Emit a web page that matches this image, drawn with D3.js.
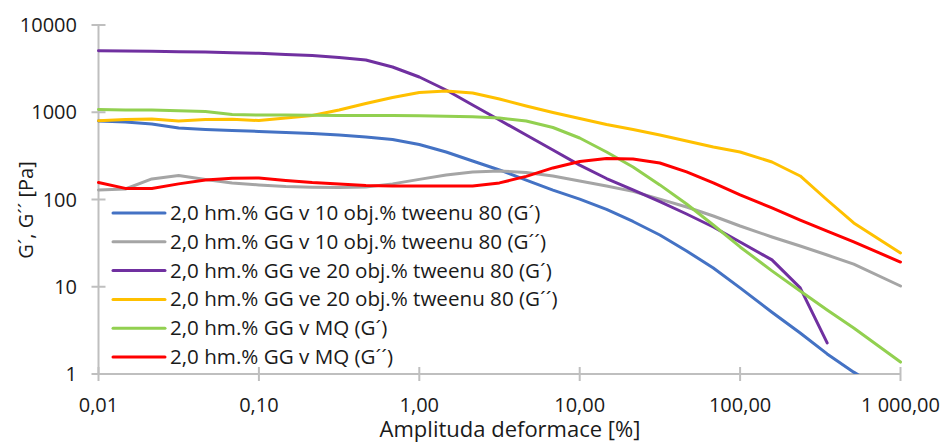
<!DOCTYPE html>
<html>
<head>
<meta charset="utf-8">
<script src="https://cdn.jsdelivr.net/npm/d3@7"></script>
<style>
  html, body { margin: 0; padding: 0; background: #ffffff; }
  svg { display: block; font-family: "Open Sans", sans-serif; }
</style>
</head>
<body>
<svg id="chart" width="945" height="443"></svg>
<script>
// Strain amplitude [%] at each measured point
const strain = [0.01, 0.0147, 0.0215, 0.0316, 0.0464, 0.0681, 0.1, 0.147, 0.215, 0.316,
  0.464, 0.681, 1.0, 1.47, 2.15, 3.16, 4.64, 6.81, 10, 14.7,
  21.5, 31.6, 46.4, 68.1, 100, 158, 237, 349, 511, 1000];

// Moduli [Pa]
const gg10G1 = [794, 773, 733, 659, 634, 618, 602, 586, 571, 548,
  520, 487, 427, 350, 276, 218, 167, 128, 101, 77,
  56, 39.2, 25.7, 16.4, 9.7, 5.1, 2.95, 1.70, 1.05, 0.5];
const gg10G2 = [128.5, 132, 172, 188, 170, 155, 147, 141, 138, 137,
  139, 151, 170, 191, 207, 212, 204, 186, 163, 143,
  124, 101, 82, 64.7, 49.7, 37.2, 29.3, 23.1, 18.2, 10.2];
const gg20G1 = [5075, 5036, 4998, 4944, 4907, 4818, 4742, 4592, 4470, 4245,
  3970, 3302, 2535, 1798, 1211, 815, 548, 369, 248, 174,
  128.5, 94.4, 68.2, 48.4, 32.6, 20.3, 9.7, 2.27, null, null];
const gg20G2 = [800, 826, 837, 794, 826, 830, 804, 859, 918, 1062,
  1260, 1476, 1684, 1753, 1662, 1419, 1180, 993, 848, 724,
  634, 548, 468, 400, 350, 269, 186, 98.7, 53.8, 24.4];
const mqG1 = [1075, 1062, 1062, 1042, 1020, 942, 930, 930, 922, 918,
  918, 918, 910, 899, 889, 859, 794, 669, 507, 350,
  236, 147, 88.7, 51, 28.6, 15.2, 8.94, 5.42, 3.37, 1.37];
const mqG2 = [156.6, 134, 134, 151, 167, 175, 176, 165, 156.6, 151,
  145, 143, 143, 143, 143, 155, 184, 230, 273, 295,
  291, 262, 207, 155, 113, 80, 58.2, 43.5, 32.6, 19.2];

const seriesNames = [
  "2,0 hm.% GG v 10 obj.% tweenu 80 (G\u00B4)",
  "2,0 hm.% GG v 10 obj.% tweenu 80 (G\u00B4\u00B4)",
  "2,0 hm.% GG ve 20 obj.% tweenu 80 (G\u00B4)",
  "2,0 hm.% GG ve 20 obj.% tweenu 80 (G\u00B4\u00B4)",
  "2,0 hm.% GG v MQ (G\u00B4)",
  "2,0 hm.% GG v MQ (G\u00B4\u00B4)"
];
const seriesColors = ["#4472C4", "#A5A5A5", "#7030A0", "#FFC000", "#92D050", "#FF0000"];
const seriesValues = [gg10G1, gg10G2, gg20G1, gg20G2, mqG1, mqG2];

const xTicks = [0.01, 0.1, 1, 10, 100, 1000];
const xTickLabels = ["0,01", "0,10", "1,00", "10,00", "100,00", "1 000,00"];
const yTicks = [1, 10, 100, 1000, 10000];
const yTickLabels = ["1", "10", "100", "1000", "10000"];

const xTitle = "Amplituda deformace [%]";
const yTitle = "G\u00B4, G\u00B4\u00B4 [Pa]";

const svg = d3.select("#chart");
const plot = { left: 98.5, right: 900.5, top: 25, bottom: 374 };

const x = d3.scaleLog().domain([0.01, 1000]).range([plot.left, plot.right]);
const y = d3.scaleLog().domain([1, 10000]).range([plot.bottom, plot.top]);

const axisColor = "#BFBFBF";
const textColor = "#1a1a1a";

// clip region for the data lines
svg.append("defs").append("clipPath").attr("id", "plotClip")
  .append("rect")
  .attr("x", plot.left - 2).attr("y", plot.top - 2)
  .attr("width", plot.right - plot.left + 4)
  .attr("height", plot.bottom - plot.top + 2);

// Y axis: line, crossing ticks, labels
const yAxis = svg.append("g");
yAxis.append("line")
  .attr("x1", plot.left).attr("x2", plot.left)
  .attr("y1", y(10000)).attr("y2", y(1))
  .attr("stroke", axisColor).attr("stroke-width", 2);
yAxis.selectAll("line.tick").data(yTicks).enter().append("line")
  .attr("class", "tick")
  .attr("x1", plot.left - 7).attr("x2", plot.left + 7)
  .attr("y1", d => y(d)).attr("y2", d => y(d))
  .attr("stroke", axisColor).attr("stroke-width", 2);
yAxis.selectAll("text").data(yTicks).enter().append("text")
  .attr("x", 77).attr("y", d => y(d) + 7)
  .attr("text-anchor", "end")
  .attr("font-size", 20).attr("fill", textColor)
  .text((d, i) => yTickLabels[i]);

// X axis: line, crossing ticks, labels
const xAxis = svg.append("g");
xAxis.append("line")
  .attr("x1", x(0.01)).attr("x2", x(1000))
  .attr("y1", plot.bottom).attr("y2", plot.bottom)
  .attr("stroke", axisColor).attr("stroke-width", 2);
xAxis.selectAll("line.tick").data(xTicks).enter().append("line")
  .attr("class", "tick")
  .attr("x1", d => x(d)).attr("x2", d => x(d))
  .attr("y1", plot.bottom - 7).attr("y2", plot.bottom + 7)
  .attr("stroke", axisColor).attr("stroke-width", 2);
xAxis.selectAll("text").data(xTicks).enter().append("text")
  .attr("x", d => x(d)).attr("y", 412)
  .attr("text-anchor", "middle")
  .attr("font-size", 20).attr("fill", textColor)
  .text((d, i) => xTickLabels[i]);

// Axis titles
svg.append("text")
  .attr("x", 510).attr("y", 437)
  .attr("text-anchor", "middle")
  .attr("font-size", 22).attr("fill", textColor)
  .text(xTitle);
svg.append("text")
  .attr("transform", "translate(33,210) rotate(-90)")
  .attr("text-anchor", "middle")
  .attr("font-size", 20).attr("fill", textColor)
  .text(yTitle);

// Data lines
const line = d3.line()
  .defined(d => d.v != null)
  .x(d => x(d.s))
  .y(d => y(d.v));

const lines = svg.append("g").attr("clip-path", "url(#plotClip)");
seriesValues.forEach((vals, i) => {
  const pts = strain.map((s, j) => ({ s: s, v: vals[j] }));
  lines.append("path")
    .datum(pts)
    .attr("d", line)
    .attr("fill", "none")
    .attr("stroke", seriesColors[i])
    .attr("stroke-width", 3)
    .attr("stroke-linejoin", "round")
    .attr("stroke-linecap", "round");
});

// Legend
const legend = svg.append("g");
const legendTop = 213, legendStep = 28.8;
seriesNames.forEach((name, i) => {
  const ly = legendTop + i * legendStep;
  legend.append("line")
    .attr("x1", 113).attr("x2", 165)
    .attr("y1", ly).attr("y2", ly)
    .attr("stroke", seriesColors[i]).attr("stroke-width", 3)
    .attr("stroke-linecap", "round");
  legend.append("text")
    .attr("x", 170).attr("y", ly + 7)
    .attr("font-size", 20.6).attr("fill", textColor)
    .text(name);
});
</script>
</body>
</html>
